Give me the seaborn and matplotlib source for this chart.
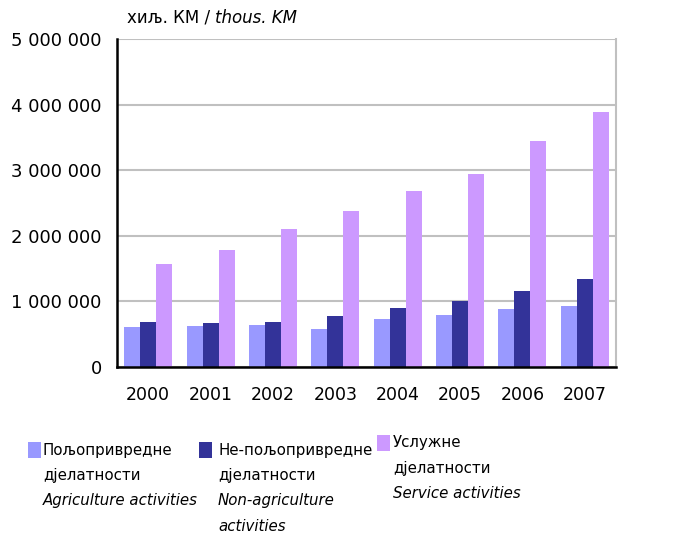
import pandas as pd
import seaborn as sns
import matplotlib.pyplot as plt
from matplotlib.patches import Rectangle

# Data (thousand KM)
years = ["2000", "2001", "2002", "2003", "2004", "2005", "2006", "2007"]
agriculture = [606000, 621000, 636000, 575000, 728000, 789000, 880000, 926000]
non_agriculture = [682000, 667000, 682000, 774000, 896000, 1003000, 1155000, 1338000]
services = [1567000, 1781000, 2102000, 2377000, 2682000, 2941000, 3445000, 3888000]

series_names = ["agri", "nonagri", "serv"]
colors = ["#9999FF", "#333399", "#CC99FF"]

df = pd.DataFrame({
    "Year": years * 3,
    "Value": agriculture + non_agriculture + services,
    "Series": [s for s in series_names for _ in years],
})

sns.set_style("white")
plt.rcParams["font.family"] = ["DejaVu Sans"]
plt.rcParams["text.color"] = "black"
plt.rcParams["xtick.color"] = "black"
plt.rcParams["ytick.color"] = "black"

fig = plt.figure(figsize=(6.93, 5.35), dpi=100)
ax = fig.add_axes([0.1688, 0.314, 0.72, 0.613])

sns.barplot(data=df, x="Year", y="Value", hue="Series", order=years,
            hue_order=series_names, palette=colors, width=0.77,
            saturation=1, errorbar=None, legend=False, linewidth=0, ax=ax)

# Axes styling
ax.set_ylim(0, 5000000)
ax.set_xlim(-0.5, len(years) - 0.5)
ax.set_xlabel("")
ax.set_ylabel("")
yticks = [0, 1000000, 2000000, 3000000, 4000000, 5000000]
ax.set_yticks(yticks)
ax.set_yticklabels([f"{v:,}".replace(",", " ") for v in yticks], fontsize=13)
ax.yaxis.grid(True, color="#C0C0C0", linewidth=1.5)
ax.set_axisbelow(True)

ax.set_xticks(range(len(years)))
ax.set_xticklabels(years, fontsize=12.5)
ax.set_xticks([i - 0.5 for i in range(len(years) + 1)], minor=True)
ax.tick_params(axis="x", which="major", length=0, pad=14)
ax.tick_params(axis="x", which="minor", length=6, width=1.5, color="black", direction="out")
ax.tick_params(axis="y", length=6, width=1.5, color="black", direction="out", pad=5)

for side in ["left", "bottom"]:
    ax.spines[side].set_color("black")
    ax.spines[side].set_linewidth(1.8)
ax.spines["top"].set_visible(False)
ax.spines["right"].set_color("#C0C0C0")
ax.spines["right"].set_linewidth(1.5)

# Unit label
t1 = fig.text(127 / 693, 1 - 18 / 535, "хиљ. КМ / ", fontsize=12, va="center", ha="left")
fig.canvas.draw()
bb = t1.get_window_extent()
fig.text(bb.x1 / fig.bbox.width, 1 - 18 / 535, "thous. KM", fontsize=12, va="center",
         ha="left", style="italic")

# Legend (manual, mixed regular/italic lines)
legend_items = [
    (28, 43, ["Пољопривредне", "дјелатности"], ["Agriculture activities"], 450),
    (199, 218, ["Не-пољопривредне", "дјелатности"], ["Non-agriculture", "activities"], 450),
    (377, 393, ["Услужне", "дјелатности"], ["Service activities"], 443),
]
line_h = 25.5
for (sx, tx, cyr, eng, y0), c in zip(legend_items, colors):
    fig.patches.append(Rectangle((sx / 693, 1 - (y0 + 8) / 535), 13 / 693, 16 / 535,
                                 transform=fig.transFigure, facecolor=c,
                                 edgecolor="none"))
    y = y0
    for line in cyr:
        fig.text(tx / 693, 1 - y / 535, line, fontsize=10.8, va="center", ha="left")
        y += line_h
    for line in eng:
        fig.text(tx / 693, 1 - y / 535, line, fontsize=10.8, va="center", ha="left",
                 style="italic")
        y += line_h

fig.savefig("out.png", dpi=100)
